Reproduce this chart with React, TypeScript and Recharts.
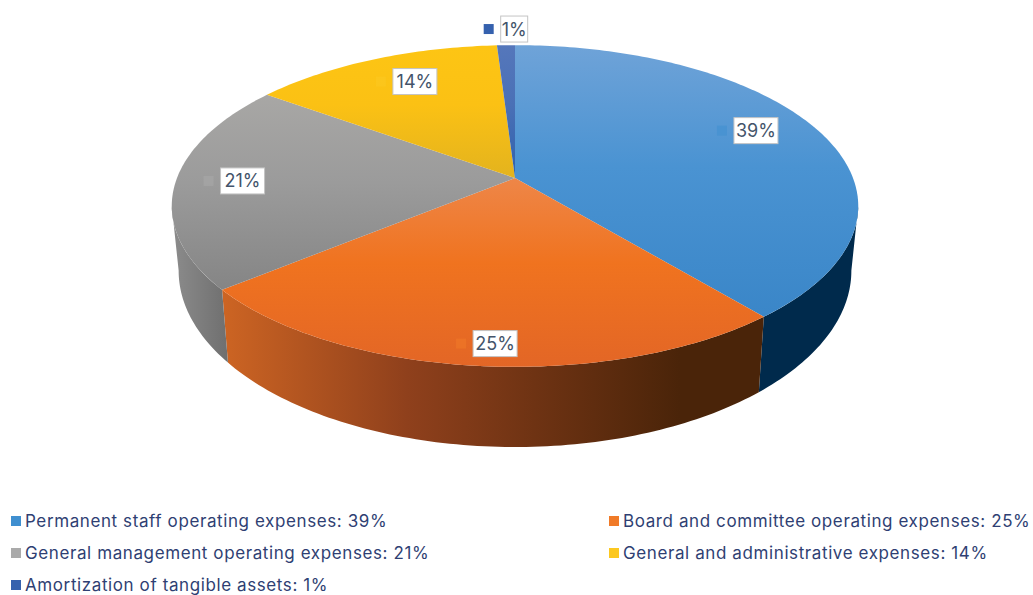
import { Legend, Pie, PieChart } from "recharts";

const names = [
  "Permanent staff operating expenses",
  "Board and committee operating expenses",
  "General management operating expenses",
  "General and administrative expenses",
  "Amortization of tangible assets",
];
const shares = [39, 25, 21, 14, 1];

const colors = ["#3f8ccb", "#ea6d22", "#a0a0a0", "#fbc114", "#3561ae"];
const keyColors = ["#3f8fd0", "#f07a28", "#aaaaaa", "#fcc820", "#3561ae"];
const topGradients = [
  ["#6fa3d8", "#4a93d2", "#3a86c8"],
  ["#ee8648", "#f0731f", "#e36626"],
  ["#a8a7a5", "#9b9b9b", "#858585"],
  ["#fdc514", "#fbc114", "#e3b31e"],
  ["#5577bb", "#4a70b6", "#2f62ad"],
];
const wallGradients = [
  ["#002a4c", "#002a4c"],
  ["#cc6423", "#4a2409"],
  ["#8c8c8c", "#6f6f6f"],
  ["#a88410", "#a88410"],
  ["#1f3f78", "#1f3f78"],
];
// radial position of each value box, with a small nudge
const labelSpots = [
  { r: 0.8, dx: -2, dy: -7 },
  { r: 0.9, dx: 14, dy: 0 },
  { r: 0.8, dx: -1, dy: -1 },
  { r: 0.8, dx: 16, dy: 1 },
  { r: 1.1, dx: 9, dy: -5 },
];

const data = names.map((name, i) => ({ name, value: shares[i], fill: colors[i] }));

const WIDTH = 1033;
const HEIGHT = 595;
const CENTER_X = 515;
const CENTER_Y = 178;
const RADIUS = 338;

// tilt and perspective of the disc
const TILT = 0.4615;
const PERSPECTIVE = 0.174;
// lower rim of the side wall
const BASE_SCALE_X = 0.98;
const BASE_Y = 240;
const BASE_SCALE_Y = 0.506;
// part of the rim that faces the viewer, clockwise from the top
const WALL_FROM = 100;
const WALL_TO = 260;

const toClock = (angle: number) => 90 - angle;

const project = (clock: number, r: number, cx: number, cy: number, radius: number) => {
  const a = (clock * Math.PI) / 180;
  const u = r * Math.sin(a);
  const v = r * Math.cos(a);
  const d = 1 + PERSPECTIVE * v;
  return [cx + (radius * u) / d, cy - (radius * TILT * v) / d];
};

const projectBase = (clock: number, cx: number, radius: number) => {
  const a = (clock * Math.PI) / 180;
  const u = Math.sin(a);
  const v = Math.cos(a);
  const d = 1 + PERSPECTIVE * v;
  return [cx + (radius * BASE_SCALE_X * u) / d, BASE_Y - (radius * BASE_SCALE_Y * v) / d];
};

const sweep = (from: number, to: number) => {
  const steps = Math.max(2, Math.ceil(Math.abs(to - from)));
  return Array.from({ length: steps + 1 }, (_, i) => from + ((to - from) * i) / steps);
};

const toPath = (pts: number[][]) =>
  "M" + pts.map((p) => `${p[0].toFixed(2)},${p[1].toFixed(2)}`).join("L") + "Z";

const Slice3D = (props: any) => {
  const { cx, cy, outerRadius, startAngle, endAngle, name } = props;
  const i = names.indexOf(name);
  const from = toClock(startAngle);
  const to = toClock(endAngle);
  const top = [[cx, cy], ...sweep(from, to).map((c) => project(c, 1, cx, cy, outerRadius))];
  const wallFrom = Math.max(from, WALL_FROM);
  const wallTo = Math.min(to, WALL_TO);
  const wall =
    wallTo > wallFrom
      ? [
          ...sweep(wallFrom, wallTo).map((c) => project(c, 1, cx, cy, outerRadius)),
          ...sweep(wallTo, wallFrom).map((c) => projectBase(c, cx, outerRadius)),
        ]
      : null;
  const wallIsShaded = i === 1;
  return (
    <g>
      <defs>
        <linearGradient id={`top-${i}`} x1="0" y1="0" x2="0" y2="1">
          <stop offset="0" stopColor={topGradients[i][0]} />
          <stop offset="0.45" stopColor={topGradients[i][1]} />
          <stop offset="1" stopColor={topGradients[i][2]} />
        </linearGradient>
        <linearGradient
          id={`wall-${i}`}
          gradientUnits={wallIsShaded ? "userSpaceOnUse" : "objectBoundingBox"}
          x1={wallIsShaded ? 225 : 0}
          y1="0"
          x2={wallIsShaded ? 680 : 1}
          y2="0"
        >
          <stop offset="0" stopColor={wallGradients[i][0]} />
          {wallIsShaded && <stop offset="0.4" stopColor="#8f401c" />}
          <stop offset="1" stopColor={wallGradients[i][1]} />
        </linearGradient>
      </defs>
      {wall && <path d={toPath(wall)} fill={`url(#wall-${i})`} />}
      <path d={toPath(top)} fill={`url(#top-${i})`} />
    </g>
  );
};

const ValueBox = (props: any) => {
  const { cx, cy, outerRadius, midAngle, index, value } = props;
  const spot = labelSpots[index];
  const [x, y] = project(toClock(midAngle), spot.r, cx, cy, outerRadius);
  const px = x + spot.dx;
  const py = y + spot.dy;
  const text = `${value}%`;
  const w = value < 10 ? 27 : 44;
  return (
    <g>
      <rect
        x={px - w / 2 - 17}
        y={py - 5}
        width={10}
        height={10}
        fill={keyColors[index]}
        opacity={index === 4 ? 1 : 0.55}
      />
      <rect x={px - w / 2} y={py - 13} width={w} height={26} fill="#ffffff" stroke="#c4c4c4" strokeWidth={1} />
      <text
        x={px}
        y={py + 6.5}
        textAnchor="middle"
        fontFamily="Inter, sans-serif"
        fontSize={18}
        fill="#44546a"
      >
        {text}
      </text>
    </g>
  );
};

const LegendRows = ({ payload }: any) => (
  <div
    style={{
      display: "grid",
      gridTemplateColumns: "598px 435px",
      gridAutoRows: "32px",
      fontFamily: "Inter, sans-serif",
      fontSize: 17,
      letterSpacing: 0.6,
      color: "#2f3f73",
      whiteSpace: "nowrap",
    }}
  >
    {(payload ?? []).map((entry: any) => {
      const i = names.indexOf(entry.value);
      return (
        <div key={entry.value} style={{ display: "flex", alignItems: "center", paddingLeft: 11 }}>
          <span style={{ width: 10, height: 10, marginRight: 4, background: keyColors[i], flex: "none" }} />
          <span>{`${entry.value}: ${shares[i]}%`}</span>
        </div>
      );
    })}
  </div>
);

export default function App() {
  return (
    <div style={{ position: "absolute", left: 0, top: 0, width: WIDTH, height: HEIGHT, background: "#ffffff" }}>
      <PieChart width={WIDTH} height={HEIGHT} margin={{ top: 0, right: 0, bottom: 0, left: 0 }}>
        <Pie
          data={data}
          dataKey="value"
          nameKey="name"
          cx={CENTER_X}
          cy={CENTER_Y}
          innerRadius={0}
          outerRadius={RADIUS}
          startAngle={90}
          endAngle={-270}
          stroke="none"
          shape={Slice3D}
          label={ValueBox}
          labelLine={false}
          isAnimationActive={false}
        />
        <Legend
          content={LegendRows}
          layout="vertical"
          itemSorter={null}
          wrapperStyle={{ left: 0, top: 505, width: WIDTH, height: 96 }}
        />
      </PieChart>
    </div>
  );
}
